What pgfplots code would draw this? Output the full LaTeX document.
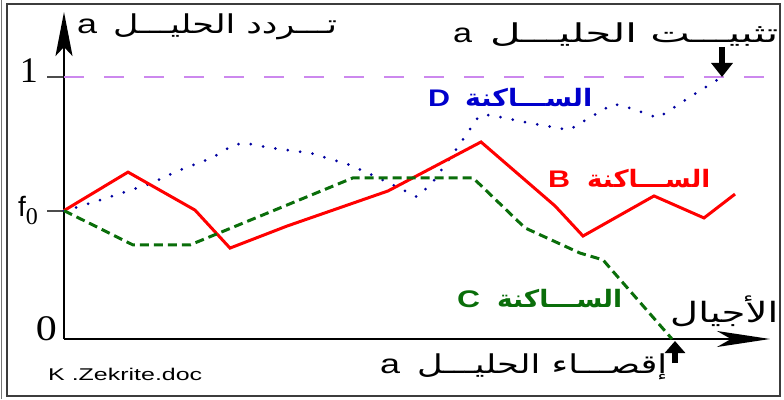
\documentclass[border=0pt]{standalone}
\usepackage{fontspec}
\setmainfont{Liberation Sans}
\newfontfamily\seriff{Liberation Serif}
\newfontfamily\arabicfont[Script=Arabic]{DejaVu Sans}
\usepackage{graphicx}
\usepackage{pgfplots}
\pgfplotsset{compat=1.18}
\usetikzlibrary{arrows.meta}
\TeXXeTstate=1

\definecolor{cRed}{RGB}{255,0,0}
\definecolor{cDot}{RGB}{0,0,160}
\definecolor{cBlue}{RGB}{0,0,204}
\definecolor{cGreen}{RGB}{10,110,10}
\definecolor{cViolet}{RGB}{204,136,238}
\definecolor{cFrame}{RGB}{60,60,60}

% text stretched horizontally to a given width (the source is widened)
\newcommand{\wide}[2]{\resizebox{#1}{\height}{#2}}

\begin{document}
\begin{tikzpicture}[x=1pt,y=1pt]
\useasboundingbox (0,0) rectangle (784,399);

% frame
\draw[cFrame, line width=1.5pt] (7,395) rectangle (780,3);
\draw[cFrame!70, line width=1pt] (1,0) -- (1,399);

\begin{axis}[
    at={(64pt,60pt)}, anchor=origin,
    x=1pt, y=262pt,
    xmin=0, xmax=706, ymin=0, ymax=1.248,
    enlargelimits=false,
    axis lines=left,
    axis line style={line width=2pt},
    x axis line style={-{Stealth[length=53pt,width=16pt,inset=14pt]}},
    y axis line style={-{Stealth[length=44pt,width=17pt,inset=9pt]}},
    xtick=\empty,
    ytick={0.49,1},
    yticklabels={{\fontsize{28}{28}\selectfont f\raisebox{-8pt}{\seriff\fontsize{24}{24}\selectfont 0}},
                 {\raisebox{12pt}{\seriff\fontsize{36}{36}\selectfont 1}}},
    major tick length=17pt,
    tick align=outside,
    tick style={line width=2pt, black!70},
    yticklabel style={inner sep=0pt, xshift=-9pt},
    extra y ticks={0},
    extra y tick labels={{\seriff\fontsize{36}{36}\selectfont\wide{21pt}{0}}},
    extra y tick style={major tick length=0pt, yticklabel style={yshift=10pt, xshift=2pt}},
    clip=false,
  ]
  % fixation level
  \addplot[cViolet, line width=2pt, dash pattern=on 20pt off 20pt] coordinates {(0,1) (706,1)};

  % population D
  \addplot[cDot, line width=3pt, line cap=round, dash pattern=on 0pt off 12.5pt] coordinates {
    (0,0.49) (14,0.504) (39,0.534) (64,0.565) (88,0.595) (113,0.641) (148,0.691)
    (169,0.740) (181,0.748) (207,0.729) (246,0.710) (283,0.668) (306,0.630)
    (331,0.584) (353,0.542) (368,0.595) (389,0.706) (415,0.851) (426,0.855)
    (466,0.824) (505,0.798) (549,0.897) (560,0.889) (594,0.844) (626,0.924) (658,1.0)};

  % population B
  \addplot[cRed, line width=3pt] coordinates {
    (0,0.49) (64,0.637) (131,0.492) (166,0.347) (223,0.431) (324,0.565)
    (417,0.752) (491,0.508) (519,0.393) (590,0.546) (640,0.462) (671,0.553)};

  % population C
  \addplot[cGreen, line width=3pt, dash pattern=on 9pt off 5pt] coordinates {
    (0,0.49) (69,0.359) (126,0.359) (289,0.615) (409,0.615) (461,0.424)
    (516,0.328) (539,0.302) (546,0.271) (608,0)};
\end{axis}

% small arrows: fixation / loss
\draw[line width=6pt, -{Triangle[length=14pt,width=21pt]}] (722,352) -- (722,322);
\draw[line width=6pt, -{Triangle[length=12pt,width=20pt]}] (675,36) -- (675,58);

% texts
\begin{scope}[every node/.style={anchor=base west, inner sep=0pt}]
\node at (77,365) {\fontsize{27}{27}\selectfont\wide{20pt}{a}};
\node at (113,365) {\fontsize{26}{26}\selectfont\arabicfont\wide{224pt}{\beginR تـــردد الحليـــل\endR}};

\node at (453,356) {\fontsize{27}{27}\selectfont\wide{19pt}{a}};
\node at (490,356) {\fontsize{26}{26}\selectfont\arabicfont\wide{288pt}{\beginR تثبيـــت الحليـــل\endR}};

\node[text=cBlue] at (428,292) {\fontsize{24}{24}\selectfont\bfseries\wide{22pt}{D}};
\node[text=cBlue] at (465,292) {\fontsize{24}{24}\selectfont\arabicfont\bfseries\wide{127pt}{\beginR الســـاكنة\endR}};

\node[text=cRed] at (548,211) {\fontsize{24}{24}\selectfont\bfseries\wide{22pt}{B}};
\node[text=cRed] at (587,211) {\fontsize{24}{24}\selectfont\arabicfont\bfseries\wide{123pt}{\beginR الســـاكنة\endR}};

\node[text=cGreen] at (457,92) {\fontsize{24}{24}\selectfont\bfseries\wide{23pt}{C}};
\node[text=cGreen] at (497,92) {\fontsize{24}{24}\selectfont\arabicfont\bfseries\wide{125pt}{\beginR الســـاكنة\endR}};

\node at (670,77) {\fontsize{28}{28}\selectfont\arabicfont\wide{108pt}{\beginR الأجيال\endR}};

\node at (380,26) {\fontsize{27}{27}\selectfont\wide{20pt}{a}};
\node at (417,26) {\fontsize{26}{26}\selectfont\arabicfont\wide{250pt}{\beginR إقصـــاء الحليـــل\endR}};

\node at (48,19) {\fontsize{17}{17}\selectfont\wide{154pt}{K .Zekrite.doc}};
\end{scope}
\end{tikzpicture}
\end{document}
